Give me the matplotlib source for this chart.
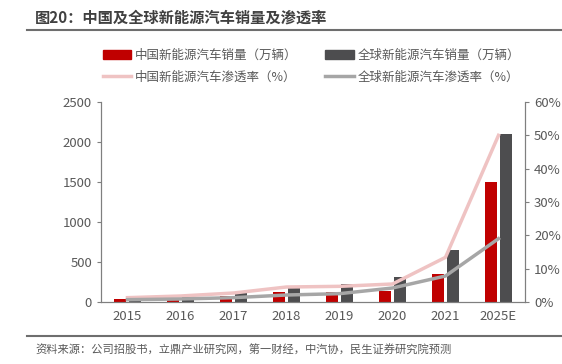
import numpy as np
import matplotlib
matplotlib.use("Agg")
import matplotlib.pyplot as plt
from matplotlib.lines import Line2D
from matplotlib.patches import Patch

plt.rcParams['font.family'] = ['Noto Sans CJK SC', 'DejaVu Sans']

years = ["2015", "2016", "2017", "2018", "2019", "2020", "2021", "2025E"]
china_sales = [33, 51, 78, 126, 121, 137, 352, 1500]
global_sales = [55, 77, 122, 201, 221, 310, 650, 2100]
china_rate = [1.3, 1.8, 2.7, 4.5, 4.7, 5.4, 13.4, 50.0]
global_rate = [0.7, 0.9, 1.3, 2.1, 2.5, 4.2, 7.8, 19.0]

red = "#C00000"
dark = "#4D4D4F"
pink = "#EFC3C3"
grey = "#A6A6A6"
txt = "#595959"

fig = plt.figure(figsize=(5.62, 3.64), dpi=100)
ax = fig.add_axes([101 / 562, 1 - 302 / 364, 424 / 562, 200 / 364])
ax2 = ax.twinx()

x = np.arange(len(years))
w = 0.22
off = 0.143
ax.bar(x - off, china_sales, w, color=red, zorder=2)
ax.bar(x + off, global_sales, w, color=dark, zorder=2)
ax2.plot(x, china_rate, color=pink, lw=2.5, zorder=3)
ax2.plot(x, global_rate, color=grey, lw=2.5, zorder=3)

ax.set_xlim(-0.5, len(years) - 0.5)
ax.set_ylim(0, 2500)
ax.set_yticks(np.arange(0, 2501, 500))
ax2.set_ylim(0, 60)
ax2.set_yticks(np.arange(0, 61, 10))
ax2.set_yticklabels([f"{v}%" for v in range(0, 61, 10)])
ax.set_xticks(x)
ax.set_xticklabels(years)

for a in (ax, ax2):
    a.spines['top'].set_visible(False)
    for s in ('left', 'right', 'bottom'):
        a.spines[s].set_color("#7F7F7F")
    a.tick_params(axis='y', colors="#7F7F7F", labelcolor=txt, labelsize=9.5, length=3, direction='out')
ax.tick_params(axis='x', length=0, labelcolor=txt, labelsize=9.5, pad=6)

# ncol=2 fills by column, so order is col1 then col2
handles = [Patch(color=red), Line2D([], [], color=pink, lw=2.5),
           Patch(color=dark), Line2D([], [], color=grey, lw=2.5)]
labels = ["中国新能源汽车销量（万辆）", "中国新能源汽车渗透率（%）",
          "全球新能源汽车销量（万辆）", "全球新能源汽车渗透率（%）"]
fig.legend(handles, labels, ncol=2, loc='center', bbox_to_anchor=(0.554, 1 - 66 / 364),
           frameon=False, fontsize=9, labelcolor=txt, handlelength=2.3, handleheight=0.7,
           columnspacing=2.2, labelspacing=0.7, handletextpad=0.3)

fig.text(35 / 562, 1 - 18 / 364, "图20：中国及全球新能源汽车销量及渗透率", fontsize=11,
         fontweight='bold', color="#404040", va='center', ha='left')
fig.add_artist(Line2D([27 / 562, 1], [1 - 30 / 364] * 2, color="#6E6E6E", lw=1.5))
fig.add_artist(Line2D([27 / 562, 1], [1 - 336 / 364] * 2, color="#6E6E6E", lw=1.5))
fig.text(35 / 562, 1 - 350 / 364, "资料来源：公司招股书，立鼎产业研究网，第一财经，中汽协，民生证券研究院预测",
         fontsize=8.1, color=txt, va='center', ha='left')

fig.savefig("out.png", dpi=100)
